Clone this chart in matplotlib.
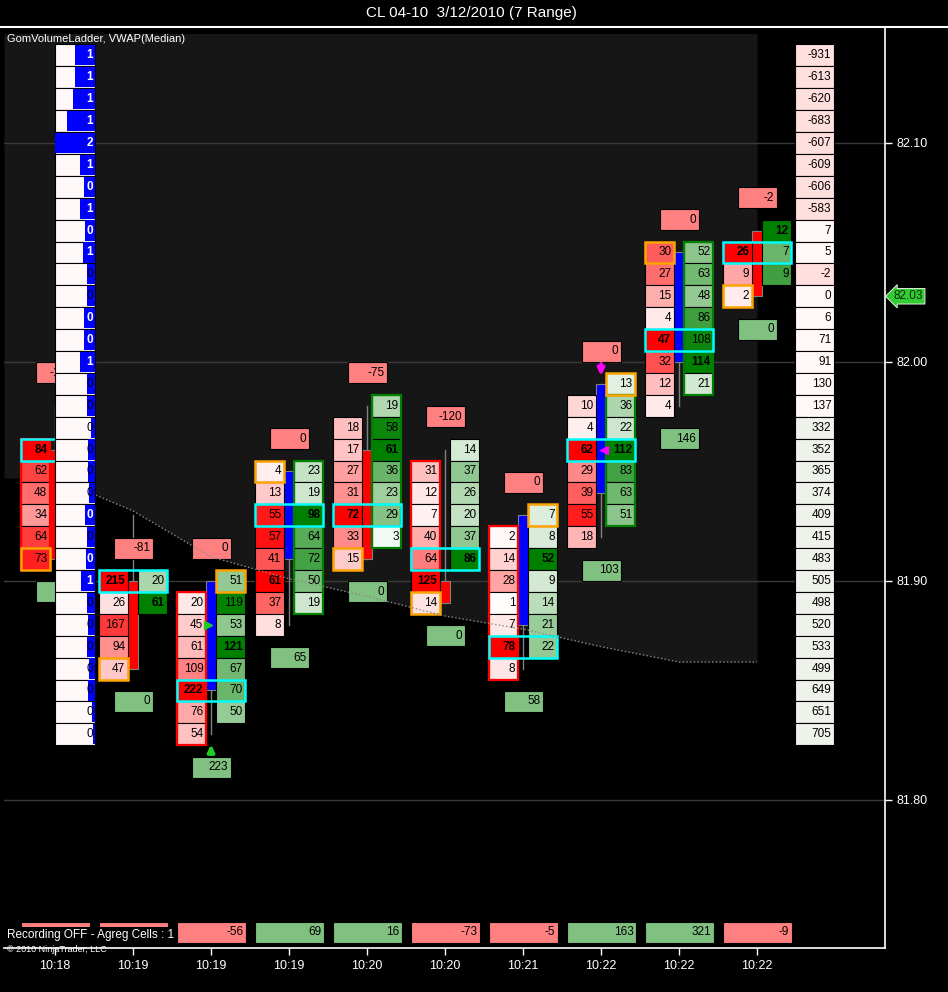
import matplotlib.pyplot as plt
from matplotlib.patches import Rectangle
from matplotlib.lines import Line2D

plt.rcParams['font.family'] = ['Liberation Sans', 'DejaVu Sans']

TICK = 0.01

# x axis labels, one per range bar
times = ['10:18', '10:19', '10:19', '10:19', '10:20', '10:20', '10:21', '10:22', '10:22', '10:22']

# bid volume per price (left column), listed from the top price downwards
bid_top = [81.96, 81.90, 81.89, 81.95, 81.97, 81.95, 81.92, 81.98, 82.05, 82.05]
bid_vals = [
    [84, 62, 48, 34, 64, 73],
    [215, 26, 167, 94, 47],
    [20, 45, 61, 109, 222, 76, 54],
    [4, 13, 55, 57, 41, 61, 37, 8],
    [18, 17, 27, 31, 72, 33, 15],
    [31, 12, 7, 40, 64, 125, 14],
    [2, 14, 28, 1, 7, 78, 8],
    [10, 4, 62, 29, 39, 55, 18],
    [30, 27, 15, 4, 47, 32, 12, 4],
    [26, 9, 2],
]
# ask volume per price (right column)
ask_top = [81.98, 81.90, 81.90, 81.95, 81.98, 81.96, 81.93, 81.99, 82.05, 82.06]
ask_vals = [
    [],
    [20, 61],
    [51, 119, 53, 121, 67, 70, 50],
    [23, 19, 98, 64, 72, 50, 19],
    [19, 58, 61, 36, 23, 29, 3],
    [14, 37, 26, 20, 37, 86],
    [7, 8, 52, 9, 14, 21, 22],
    [13, 36, 22, 112, 83, 63, 51],
    [52, 63, 48, 86, 108, 114, 21],
    [12, 7, 9],
]

opens = [81.96, 81.90, 81.85, 81.91, 81.96, 81.90, 81.88, 81.94, 82.00, 82.06]
closes = [81.91, 81.86, 81.90, 81.95, 81.91, 81.89, 81.93, 81.99, 82.05, 82.03]
highs = [81.98, 81.93, 81.90, 81.95, 81.98, 81.96, 81.93, 81.99, 82.05, 82.06]
lows = [81.91, 81.86, 81.83, 81.88, 81.91, 81.89, 81.86, 81.92, 81.98, 82.03]

# delta boxes above / below each bar
delta_hi = [-112, -81, 0, 0, -75, -120, 0, 0, 0, -2]
delta_hi_price = [81.995, 81.915, 81.915, 81.965, 81.995, 81.975, 81.945, 82.005, 82.065, 82.075]
delta_lo = [0, 0, 223, 65, 0, 0, 58, 103, 146, 0]
delta_lo_price = [81.895, 81.845, 81.815, 81.865, 81.895, 81.875, 81.845, 81.905, 81.965, 82.015]

# bar deltas along the bottom (first two are hidden behind the status text, both negative)
bar_delta = [None, None, -56, 69, 16, -73, -5, 163, 321, -9]
bar_delta_price = 81.7397

# highlighted cells
poc = [81.96, 81.90, 81.85, 81.93, 81.93, 81.91, 81.87, 81.96, 82.01, 82.05]
orange = [('bid', 81.91), ('bid', 81.86), ('ask', 81.90), ('bid', 81.95), ('bid', 81.91),
          ('bid', 81.89), ('ask', 81.93), ('ask', 81.99), ('bid', 82.05), ('bid', 82.03)]
frames = [('bid', 81.96, 81.91), None, ('bid', 81.89, 81.83), ('ask', 81.95, 81.89),
          ('ask', 81.98, 81.92), ('bid', 81.95, 81.91), ('bid', 81.92, 81.86),
          ('ask', 81.98, 81.93), ('ask', 82.05, 81.99), None]

vwap = [81.947, 81.932, 81.911, 81.901, 81.893, 81.884, 81.878, 81.870, 81.863, 81.863]

# volume ladder on the left (82.14 down to 81.83)
ladder_top = 82.14
ladder_vals = [1, 1, 1, 1, 2, 1, 0, 1, 0, 1, 0, 0, 0, 0, 1, 0,
               0, 0, 0, 0, 0, 0, 0, 0, 1, 0, 0, 0, 0, 0, 0, 0]
ladder_fill = [0.5, 0.5, 0.55, 0.71, 1.0, 0.37, 0.27, 0.37, 0.25, 0.3, 0.19, 0.2, 0.27, 0.27, 0.37, 0.2,
               0.2, 0.1, 0.18, 0.18, 0.16, 0.24, 0.2, 0.22, 0.34, 0.2, 0.17, 0.2, 0.15, 0.17, 0.07, 0.04]

# cumulative delta ladder on the right
right_vals = [-931, -613, -620, -683, -607, -609, -606, -583, 7, 5, -2, 0, 6, 71, 91, 130,
              137, 332, 352, 365, 374, 409, 415, 483, 505, 498, 520, 533, 499, 649, 651, 705]

last_price = 82.03

fig = plt.figure(figsize=(9.48, 9.92), dpi=100, facecolor='black')
ax = fig.add_axes([4 / 948, 1 - 948 / 992, 881 / 948, 920 / 992])
ax.set_facecolor('black')
ax.set_xlim(-0.654, 10.64)
ax.set_ylim(81.7324, 82.1525)

# shaded area above the vwap and the vwap itself
xs = [-0.654] + list(range(len(vwap)))
ax.fill_between(xs, [vwap[0]] + vwap, 82.15, color='#161616', lw=0, zorder=0.2)
ax.plot(range(len(vwap)), vwap, color='#8a8a8a', ls=':', lw=1, zorder=6)

BW = 0.064    # half body width
CW = 0.375    # cell width


def cell(x0, p, w, fc, txt, bold=False, z=3, tcolor='black', h=TICK):
    ax.add_patch(Rectangle((x0, p - h / 2), w, h, fc=fc, ec='black', lw=0.8, zorder=z))
    if txt is not None:
        ax.text(x0 + w - 0.035, p, txt, ha='right', va='center', fontsize=8.5, color=tcolor,
                fontweight='bold' if bold else 'normal', zorder=z + 0.1)


for i in range(len(times)):
    c = i
    # wick and body
    ax.plot([c, c], [lows[i], highs[i]], color='#808080', lw=1, zorder=2)
    body_col = 'blue' if closes[i] > opens[i] else 'red'
    ax.add_patch(Rectangle((c - BW, min(opens[i], closes[i])), 2 * BW, abs(closes[i] - opens[i]),
                           fc=body_col, ec='#808080', lw=0.8, zorder=2.5))

    vals = bid_vals[i]
    for k, v in enumerate(vals):
        r = v / max(vals)
        cell(c - BW - CW, bid_top[i] - k * TICK, CW, (1, 1 - r, 1 - r), str(v), v == max(vals))
    vals = ask_vals[i]
    for k, v in enumerate(vals):
        r = v / max(vals)
        cell(c + BW, ask_top[i] - k * TICK, CW, (1 - r, 1 - 0.5 * r, 1 - r), str(v), v == max(vals))

    # delta boxes
    cell(c - 0.244, delta_hi_price[i], 0.5, '#ff8080', str(delta_hi[i]), h=0.0096)
    cell(c - 0.244, delta_lo_price[i], 0.5, '#80c080', str(delta_lo[i]), h=0.0096)
    d = bar_delta[i]
    cell(c - 0.436, bar_delta_price, 0.885, '#80c080' if d is not None and d > 0 else '#ff8080',
         None if d is None else str(d), h=0.0096)

    # column frames
    if frames[i]:
        side, top, bot = frames[i]
        x0 = c - BW - CW if side == 'bid' else c + BW
        ax.add_patch(Rectangle((x0, bot - TICK / 2), CW, top - bot + TICK, fill=False,
                               ec='red' if side == 'bid' else 'green', lw=1.6, zorder=4.5))
    # point of control row
    ax.add_patch(Rectangle((c - BW - CW, poc[i] - TICK / 2), 2 * (BW + CW), TICK, fill=False,
                           ec='cyan', lw=1.8, zorder=5))
    side, p = orange[i]
    x0 = c - BW - CW if side == 'bid' else c + BW
    ax.add_patch(Rectangle((x0, p - TICK / 2), CW, TICK, fill=False, ec='orange', lw=1.8, zorder=5))

# signal markers
ax.plot(2 - 0.035, 81.88, marker='>', color='#22cc22', ms=6, zorder=6)
ax.plot(7 + 0.04, 81.96, marker='<', color='magenta', ms=6, zorder=6)
ax.annotate('', xy=(2, 81.8265), xytext=(2, 81.8205),
            arrowprops=dict(arrowstyle='-|>', color='#22cc22', lw=2.5, mutation_scale=10), zorder=6)
ax.annotate('', xy=(7, 81.9925), xytext=(7, 82.0005),
            arrowprops=dict(arrowstyle='-|>', color='magenta', lw=2.5, mutation_scale=10), zorder=6)

# left volume ladder
for k, v in enumerate(ladder_vals):
    p = ladder_top - k * TICK
    f = ladder_fill[k]
    ax.add_patch(Rectangle((0, p - TICK / 2), 0.513, TICK, fc='#fff8f8', ec='black', lw=0.8, zorder=7))
    ax.add_patch(Rectangle((0.513 - f * 0.513, p - TICK / 2 + 0.0004), f * 0.513, TICK - 0.0008,
                           fc='blue', lw=0, zorder=7.1))
    white = f >= 0.21
    ax.text(0.513 - 0.03, p, str(v), ha='right', va='center', fontsize=8.5,
            color='white' if white else 'black', fontweight='bold' if white else 'normal', zorder=7.2)

# right cumulative delta ladder
for k, v in enumerate(right_vals):
    p = ladder_top - k * TICK
    fc = '#ffdede' if v < 0 else ('#fff8f6' if v < 200 else '#eef2ea')
    ax.add_patch(Rectangle((9.487, p - TICK / 2), 0.5, TICK, fc=fc, ec='black', lw=0.8, zorder=7))
    ax.text(9.987 - 0.035, p, str(v), ha='right', va='center', fontsize=8.5, color='black', zorder=7.2)

# axes styling
ax.set_yticks([81.80, 81.90, 82.00, 82.10])
ax.set_yticklabels(['81.80', '81.90', '82.00', '82.10'])
ax.yaxis.tick_right()
ax.set_xticks(range(len(times)))
ax.set_xticklabels(times)
ax.tick_params(colors='white', labelsize=9, length=5, width=1)
ax.grid(axis='y', color='#3a3a3a', lw=1)
ax.set_axisbelow(True)
for s in ['left', 'top']:
    ax.spines[s].set_visible(False)
for s in ['right', 'bottom']:
    ax.spines[s].set_color('white')
    ax.spines[s].set_linewidth(1.2)

ax.text(1.01, last_price, '82.03', transform=ax.get_yaxis_transform(), ha='left', va='center',
        fontsize=8.5, color='#0a2a0a', bbox=dict(boxstyle='larrow,pad=0.15', fc='#33cc33', ec='white', lw=0.6))

fig.add_artist(Line2D([0, 1], [1 - 27 / 992] * 2, color='white', lw=1.5))
fig.text(0.497, 1 - 13 / 992, 'CL 04-10  3/12/2010 (7 Range)', ha='center', va='center',
         color='white', fontsize=11)
fig.text(7 / 948, 1 - 39 / 992, 'GomVolumeLadder, VWAP(Median)', ha='left', va='center',
         color='white', fontsize=8)
fig.text(7 / 948, 1 - 950 / 992, '\u00a9 2010 NinjaTrader, LLC', ha='left', va='center',
         color='white', fontsize=6.5, zorder=2.9)
fig.text(7 / 948, 1 - 935 / 992, 'Recording OFF - Agreg Cells : 1', ha='left', va='center',
         color='white', fontsize=8.5, zorder=3.1, bbox=dict(fc='black', ec='none', pad=1.2))

fig.savefig('out.png', dpi=100, facecolor='black')
